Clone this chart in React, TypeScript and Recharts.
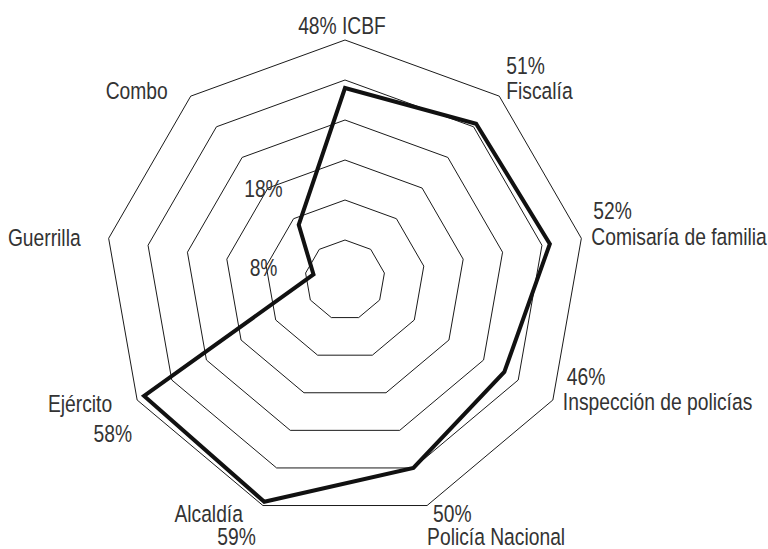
import { RadarChart, Radar, PolarGrid, PolarAngleAxis, PolarRadiusAxis, LabelList } from "recharts";

// categories clockwise from the top
const categories = [
  "ICBF",
  "Fiscalía",
  "Comisaría de familia",
  "Inspección de policías",
  "Policía Nacional",
  "Alcaldía",
  "Ejército",
  "Guerrilla",
  "Combo",
];
const values = [48, 51, 52, 46, 50, 59, 58, 8, 18];
const radiusTicks = [0, 10, 20, 30, 40, 50, 60];

const data = categories.map((name, i) => ({ name, value: values[i] }));

const CX = 345;
const CY = 280;
const R = 240;
// the reference uses a condensed face; squeeze Liberation Sans horizontally
const FONT = "'Liberation Sans', Arial, sans-serif";
const FONT_SIZE = 23.5;
const SQUEEZE = 0.82;
const TEXT = "#333";

// how each outer label sits around its vertex: anchor, and per line [dx, dy, kind]
type Line = [number, number, "pct" | "name" | "both"];
const outerLayout: { anchor: "start" | "middle" | "end"; lines: Line[] }[] = [
  { anchor: "middle", lines: [[-3, -6, "both"]] },
  { anchor: "start", lines: [[7, -22, "pct"], [7, 3, "name"]] },
  { anchor: "start", lines: [[12, -19, "pct"], [10, 7, "name"]] },
  { anchor: "start", lines: [[14, -15, "pct"], [10, 10, "name"]] },
  { anchor: "start", lines: [[6, 16, "pct"], [0, 39, "name"]] },
  { anchor: "end", lines: [[-20, 16, "name"], [-7, 39, "pct"]] },
  { anchor: "end", lines: [[-25, 12, "name"], [-5, 42, "pct"]] },
  { anchor: "end", lines: [[-28, 8, "name"]] },
  { anchor: "end", lines: [[-23, 3, "name"]] },
];

// inner value labels only for the two small values
const innerOffsets: Record<number, [number, number]> = {
  7: [-36, 2],
  8: [-16, -28],
};

function NarrowText({ x, y, anchor, children }: any) {
  return (
    <text
      transform={`translate(${x},${y}) scale(${SQUEEZE},1)`}
      x={0}
      y={0}
      textAnchor={anchor}
      fontFamily={FONT}
      fontSize={FONT_SIZE}
      fill={TEXT}
    >
      {children}
    </text>
  );
}

function AngleTick(props: any) {
  const { payload, index } = props;
  const i = index ?? categories.indexOf(payload.value);
  const angle = (90 - i * (360 / categories.length)) * (Math.PI / 180);
  const vx = CX + R * Math.cos(angle);
  const vy = CY - R * Math.sin(angle);
  const layout = outerLayout[i];
  const name = categories[i];
  const pct = `${values[i]}%`;
  return (
    <g>
      {layout.lines.map(([dx, dy, kind], k) => (
        <NarrowText key={k} x={vx + dx} y={vy + dy} anchor={layout.anchor}>
          {kind === "pct" ? pct : kind === "name" ? name : `${pct} ${name}`}
        </NarrowText>
      ))}
    </g>
  );
}

function InnerLabel(props: any) {
  const { x, y, index, value } = props;
  const off = innerOffsets[index];
  if (!off) return null;
  return (
    <NarrowText x={x + off[0]} y={y + off[1]} anchor="end">
      {`${value}%`}
    </NarrowText>
  );
}

export default function App() {
  return (
    <div style={{ background: "#fff", position: "absolute", left: 0, top: 0 }}>
      <RadarChart width={768} height={549} data={data} cx={CX} cy={CY} outerRadius={R}>
        <PolarGrid gridType="polygon" radialLines={false} stroke="#1a1a1a" strokeWidth={1} />
        <PolarRadiusAxis
          domain={[0, 60]}
          ticks={radiusTicks as any}
          tickCount={radiusTicks.length}
          tick={false}
          axisLine={false}
        />
        <PolarAngleAxis dataKey="name" tick={<AngleTick />} tickLine={false} axisLine={false} />
        <Radar
          dataKey="value"
          stroke="#111"
          strokeWidth={4}
          fill="none"
          fillOpacity={0}
          dot={false}
          isAnimationActive={false}
        >
          <LabelList dataKey="value" content={<InnerLabel />} />
        </Radar>
      </RadarChart>
    </div>
  );
}
